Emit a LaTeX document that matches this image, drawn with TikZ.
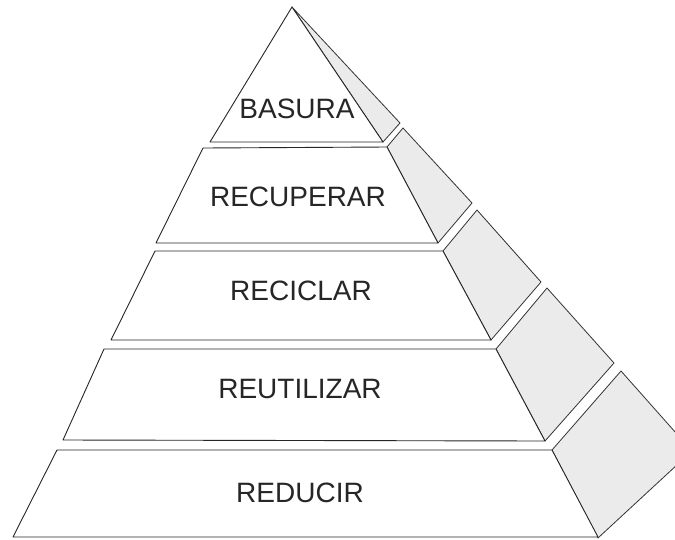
\documentclass[tikz,border=0pt]{standalone}
\usepackage{fontspec}
\setmainfont{Liberation Sans}
\begin{document}
\begin{tikzpicture}[x=1pt,y=-1pt,
  face/.style={draw=black!85, line width=0.9pt, fill=white, line join=round},
  side/.style={draw=black!80, line width=0.8pt, fill=black!8, line join=round},
  lbl/.style={font=\fontsize{28}{30}\selectfont, text=black!85, inner sep=0pt}]
\useasboundingbox (0,0) rectangle (675,539);
\clip (0,0) rectangle (675,539);
% side pieces (shaded)
\draw[side] (292,7) -- (400,123) -- (383,142) -- cycle;
\draw[side] (387,147) -- (403,128) -- (472,203) -- (438,243) -- cycle;
\draw[side] (443,251) -- (477,210) -- (541,282) -- (491,340) -- cycle;
\draw[side] (496,349) -- (547,288) -- (614,363) -- (545,441) -- cycle;
\draw[side] (552,450) -- (621,371) -- (692,451) -- (598,538) -- cycle;
% front layers
\draw[face] (292,7) -- (383,142) -- (210,142) -- cycle;
\draw[face] (203,148) -- (387,147) -- (438,243) -- (156,243) -- cycle;
\draw[face] (155,251) -- (443,251) -- (491,340) -- (111,340) -- cycle;
\draw[face] (104,349) -- (496,349) -- (545,441) -- (63,440) -- cycle;
\draw[face] (57,450) -- (552,450) -- (598,537) -- (13,537) -- cycle;
% labels
\node[lbl] (basura) at (297,109) {BASURA};
\node[lbl] (recuperar) at (298,197) {RECUPERAR};
\node[lbl] (reciclar) at (301,291) {RECICLAR};
\node[lbl] (reutilizar) at (300,389) {REUTILIZAR};
\node[lbl] (reducir) at (300,493) {REDUCIR};
\end{tikzpicture}
\end{document}
